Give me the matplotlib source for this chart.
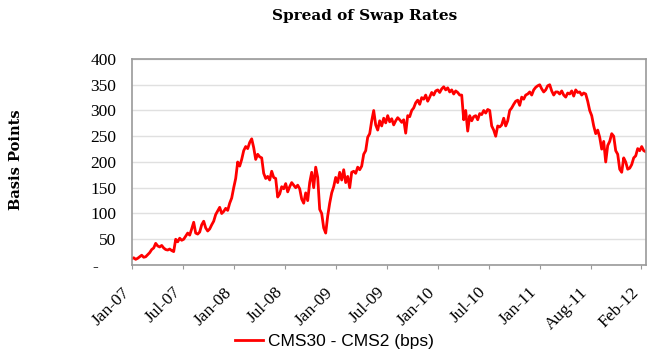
import numpy as np
import matplotlib
matplotlib.use("Agg")
import matplotlib.pyplot as plt
import matplotlib.transforms as mtransforms

# CMS30 - CMS2 spread (bps), roughly weekly
spread = [
    12, 14, 11, 13, 16, 19, 15, 16, 20, 24, 30, 33, 42, 37, 35, 38, 33, 30, 29, 31,
    28, 26, 50, 45, 52, 48, 50, 56, 62, 58, 70, 83, 62, 60, 64, 78, 85, 72, 66, 70,
    78, 85, 98, 105, 112, 100, 104, 110, 106, 120, 130, 150, 168, 200, 192, 205, 222, 230, 226, 238,
    245, 228, 205, 215, 210, 208, 178, 168, 172, 165, 182, 170, 168, 132, 138, 152, 148, 158, 142, 152,
    160, 155, 150, 155, 148, 128, 120, 140, 125, 160, 180, 150, 190, 170, 108, 100, 72, 62, 95, 120,
    140, 152, 170, 160, 180, 165, 185, 160, 172, 150, 180, 182, 178, 190, 185, 192, 215, 222, 248, 255,
    280, 300, 272, 262, 280, 270, 285, 276, 290, 278, 284, 272, 280, 286, 282, 277, 282, 256, 290, 288,
    300, 305, 315, 320, 312, 325, 322, 330, 318, 326, 335, 330, 338, 340, 335, 342, 346, 340, 344, 336,
    340, 332, 338, 335, 330, 330, 282, 300, 260, 290, 280, 288, 290, 282, 294, 292, 300, 295, 302, 300,
    270, 262, 250, 270, 268, 272, 285, 270, 280, 300, 305, 312, 318, 320, 310, 326, 322, 330, 332, 336,
    330, 340, 345, 348, 350, 342, 336, 340, 348, 350, 338, 330, 336, 336, 332, 338, 330, 326, 334, 332,
    338, 328, 340, 335, 336, 330, 334, 332, 318, 300, 290, 270, 255, 262, 248, 225, 240, 200, 232, 240,
    255, 250, 222, 215, 186, 180, 208, 200, 186, 188, 195, 208, 212, 226, 222, 230, 222, 220,
]
tick_labels = ["Jan-07", "Jul-07", "Jan-08", "Jul-08", "Jan-09", "Jul-09",
               "Jan-10", "Jul-10", "Jan-11", "Aug-11", "Feb-12"]
y_ticks = [0, 50, 100, 150, 200, 250, 300, 350, 400]
y_labels = ["-    ", "50", "100", "150", "200", "250", "300", "350", "400"]

x = np.arange(len(spread))

fig = plt.figure(figsize=(6.5, 3.58), dpi=100)
ax = fig.add_axes([0.2026, 0.2598, 0.7908, 0.5754])

ax.plot(x, spread, color="#ff0000", lw=2.0, label="CMS30 - CMS2 (bps)")

ax.set_xlim(0, len(spread) - 1)
ax.set_ylim(0, 400)

# axis is category-like: a label every ~25.45 points
step = (len(spread) - 1) * 50.9 / 514
ax.set_xticks([0.35 + step * i for i in range(len(tick_labels))])
ax.set_xticklabels(tick_labels, rotation=45, ha="right", va="center",
                   rotation_mode="anchor", fontsize=12.5, family="Liberation Serif")
ax.set_yticks(y_ticks)
ax.set_yticklabels(y_labels, fontsize=12.5, family="Liberation Serif")

ax.tick_params(axis="y", length=0, pad=11)
ax.tick_params(axis="x", length=3, color="#999999", pad=15)
shift = mtransforms.ScaledTranslation(-5 / 100, 0, fig.dpi_scale_trans)
for lbl in ax.get_xticklabels():
    lbl.set_transform(lbl.get_transform() + shift)

ax.grid(axis="y", color="#e0e0e0", lw=1)
ax.set_axisbelow(True)
for s in ax.spines.values():
    s.set_color("#9a9a9a")
    s.set_linewidth(1.2)

fig.text(0.5615, 0.955, "Spread of Swap Rates", ha="center", va="center",
         fontsize=11, fontweight="bold", family="DejaVu Serif")
fig.text(0.024, 0.553, "Basis Points", ha="center", va="center", rotation=90,
         fontsize=10.5, fontweight="bold", family="DejaVu Serif")

fig.legend(loc="center", bbox_to_anchor=(0.515, 0.045), frameon=False,
           prop={"family": "Liberation Sans", "size": 12.5},
           handlelength=1.6, handletextpad=0.3)

fig.savefig("out.png", dpi=100)
